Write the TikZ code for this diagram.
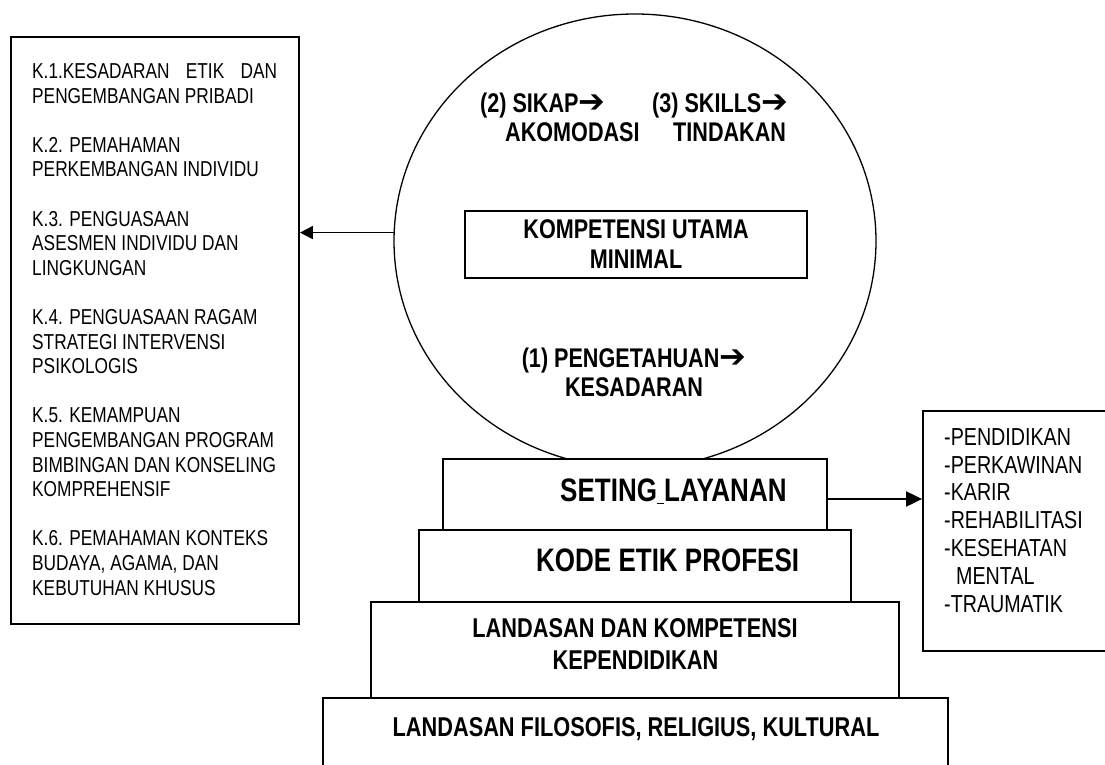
\documentclass[tikz,border=0pt]{standalone}
\usepackage{fontspec}
\setmainfont{Liberation Sans}[FakeStretch=0.8]
\newfontfamily\arw{DejaVu Sans}
\usetikzlibrary{shapes.geometric,arrows.meta}
\newcommand\harr{{\arw\fontsize{32}{32}\selectfont ➔}}
\tikzset{
  boxnode/.style={draw, line width=1.8pt, fill=white, inner sep=0pt},
  regL/.style={font=\fontsize{21.6}{24.6}\selectfont, inner sep=0pt},
  regR/.style={font=\fontsize{24.6}{27.8}\selectfont, inner sep=0pt},
  boldC/.style={font=\bfseries\fontsize{27}{30}\selectfont, inner sep=0pt},
  boldB/.style={font=\bfseries\fontsize{32.5}{36}\selectfont, inner sep=0pt},
  boldL/.style={font=\bfseries\fontsize{27.2}{32}\selectfont, inner sep=0pt},
  arrL/.style={line width=1.5pt, -{Triangle[length=13pt,width=13pt]}},
  arrR/.style={line width=2pt, -{Triangle[length=16pt,width=15pt]}}
}
\begin{document}
\begin{tikzpicture}[x=1pt,y=-1pt]
\useasboundingbox (0,0) rectangle (1105,765);
\fill[white] (0,0) rectangle (1105,765);
\clip (0,0) rectangle (1105,765);

% left list box
\node[boxnode, minimum width=288pt, minimum height=587pt] (lbox) at (155,330.5) {};
\node[regL, align=left, anchor=north west] (ltext) at (32,63.2) {%
\makebox[245pt][s]{K.1.KESADARAN\hfill ETIK\hfill DAN}\\
PENGEMBANGAN PRIBADI\\[24.6pt]
K.2. PEMAHAMAN\\
PERKEMBANGAN INDIVIDU\\[24.6pt]
K.3. PENGUASAAN\\
ASESMEN INDIVIDU DAN\\
LINGKUNGAN\\[24.6pt]
K.4. PENGUASAAN RAGAM\\
STRATEGI INTERVENSI\\
PSIKOLOGIS\\[24.6pt]
K.5. KEMAMPUAN\\
PENGEMBANGAN PROGRAM\\
BIMBINGAN DAN KONSELING\\
KOMPREHENSIF\\[24.6pt]
K.6. PEMAHAMAN KONTEKS\\
BUDAYA, AGAMA, DAN\\
KEBUTUHAN KHUSUS};

% big ellipse
\node[draw, ellipse, line width=1.3pt, minimum width=482pt, minimum height=454pt, inner sep=0pt] (circ) at (635,241) {};
\node[boldC, anchor=base west] (sikap) at (480,112.7) {(2) SIKAP\harr};
\node[boldC, anchor=base west] (akom) at (505,141.7) {AKOMODASI};
\node[boldC, anchor=base west] (skills) at (652,112.7) {(3) SKILLS\harr};
\node[boldC, anchor=base west] (tind) at (673,141.7) {TINDAKAN};
\node[boxnode, boldC, align=center, minimum width=342pt, minimum height=67pt] (kbox) at (636,244.5) {KOMPETENSI UTAMA\\MINIMAL};
\node[boldC, anchor=base] (penget) at (634,367.7) {(1) PENGETAHUAN\harr};
\node[boldC, anchor=base] (kesad) at (634,396.7) {KESADARAN};

% pyramid
\node[boxnode, minimum width=625pt, minimum height=122pt] (filo) at (635.5,759) {};
\node[boxnode, minimum width=528pt, minimum height=96pt] (landk) at (635,650) {};
\node[boxnode, minimum width=432pt, minimum height=72pt] (kode) at (635,566) {};
\node[boxnode, minimum width=384pt, minimum height=71pt] (seting) at (635,494.5) {};
\node[boldB, anchor=base west] (tset) at (560,501.6) {SETING\underline{\ }LAYANAN};
\node[boldB, anchor=base west] (tkode) at (536,571.6) {KODE ETIK PROFESI};
\node[boldL, anchor=base] (tland1) at (635,637.7) {LANDASAN DAN KOMPETENSI};
\node[boldL, anchor=base] (tland2) at (635.5,669.7) {KEPENDIDIKAN};
\node[boldL, anchor=base] (tfilo) at (636,736.7) {LANDASAN FILOSOFIS, RELIGIUS, KULTURAL};

% right list box
\node[boxnode, minimum width=217pt, minimum height=240pt] (rbox) at (1031.5,531) {};
\node[regR, align=left, anchor=north west] (rtext) at (944,428.2) {%
-PENDIDIKAN\\
-PERKAWINAN\\
-KARIR\\
-REHABILITASI\\
-KESEHATAN\\
\hspace*{12pt}MENTAL\\
-TRAUMATIK};

% connectors
\draw[arrL] (circ.178.8) -- (circ.178.8 -| lbox.east);
\draw[arrR] ([yshift=-4.5pt]seting.east) -- ([yshift=-4.5pt]seting.east -| rbox.west);
\end{tikzpicture}
\end{document}
